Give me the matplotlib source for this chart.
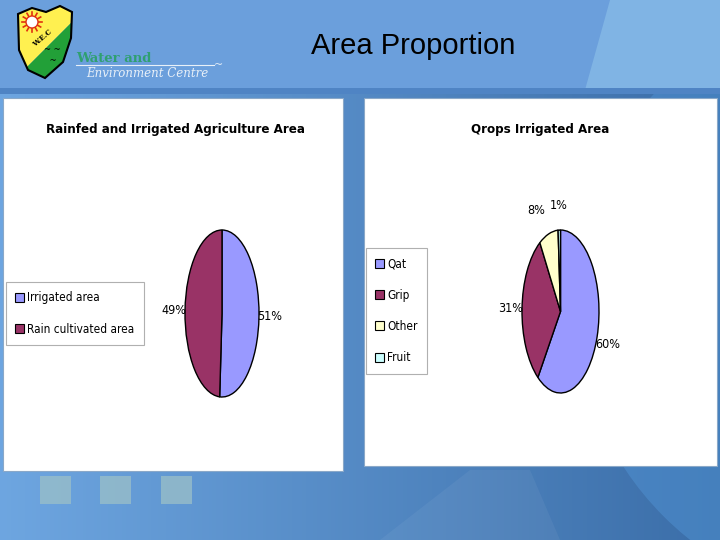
import numpy as np
import matplotlib
matplotlib.use("Agg")
import matplotlib.pyplot as plt
from matplotlib.patches import Rectangle, Polygon, Circle, Patch

# chart data
left_title = "Rainfed and Irrigated Agriculture Area"
left_labels = ["Irrigated area", "Rain cultivated area"]
left_values = [51, 49]

right_title = "Qrops Irrigated Area"
right_labels = ["Qat", "Grip", "Other", "Fruit"]
right_values = [60, 31, 8, 1]

colors = ["#9999FF", "#993366", "#FFFFCC", "#CCFFFF"]
narrow = dict(family="DejaVu Sans", stretch="condensed")

W, H = 720, 540


def fig_box(x0, y0, x1, y1):
    # pixel box (top-left origin) -> figure fraction rect
    return [x0 / W, 1 - y1 / H, (x1 - x0) / W, (y1 - y0) / H]


fig = plt.figure(figsize=(7.2, 5.4), dpi=100)

# background slide
bg = fig.add_axes([0, 0, 1, 1])
bg.set_xlim(0, W)
bg.set_ylim(H, 0)
bg.axis("off")

xs = np.linspace(0, 1, 200)
left_c = np.array([0.43, 0.65, 0.88])
right_c = np.array([0.23, 0.43, 0.66])
row = left_c[None, :] * (1 - xs[:, None]) + right_c[None, :] * xs[:, None]
img = np.repeat(row[None, :, :], 2, axis=0)
bg.imshow(img, extent=[0, W, H, 92], aspect="auto", zorder=0)
bg.add_patch(Rectangle((0, 0), W, 92, color="#6B9FDC", zorder=1, lw=0))
bg.add_patch(Polygon([(610, 0), (W, 0), (W, 90), (585, 90)], closed=True,
                     color="#80B4E4", zorder=1, lw=0))
bg.add_patch(Rectangle((0, 88), W, 6, color="#4F84C4", zorder=1, lw=0))
low = Rectangle((0, 94), W, H - 94, transform=bg.transData)
arc = Circle((880, 300), 306, color="#4F90D0", alpha=0.55, zorder=1, lw=0)
bg.add_patch(arc)
arc.set_clip_path(low)
bg.add_patch(Polygon([(380, 540), (470, 470), (530, 470), (560, 540)],
                     closed=True, color="white", alpha=0.05, zorder=1, lw=0))
for sx in [40, 100, 161]:
    bg.add_patch(Rectangle((sx, 476), 31, 28, color="#9BC0C8", alpha=0.75,
                           zorder=2, lw=0))

# logo
shield = Polygon([(18, 14), (32, 8), (46, 12), (60, 6), (72, 12), (71, 38),
                  (63, 62), (45, 78), (28, 70), (19, 50)], closed=True,
                 fc="none", ec="black", lw=1.5, zorder=4)
bg.add_patch(shield)
yel = Polygon([(10, 0), (80, 0), (80, 14), (22, 72), (10, 72)], closed=True,
              color="#FFF050", zorder=3, lw=0)
grn = Polygon([(80, 14), (80, 90), (10, 90), (10, 72), (22, 72)], closed=True,
              color="#22A038", zorder=3, lw=0)
bg.add_patch(yel)
bg.add_patch(grn)
yel.set_clip_path(shield)
grn.set_clip_path(shield)
for a in np.linspace(0, 2 * np.pi, 12, endpoint=False):
    bg.plot([32 + 6 * np.cos(a), 32 + 10 * np.cos(a)],
            [22 + 6 * np.sin(a), 22 + 10 * np.sin(a)],
            color="#E03010", lw=1.2, zorder=4)
bg.add_patch(Circle((32, 22), 6, fc="white", ec="#E03010", lw=1, zorder=5))
bg.text(42, 38, "W.E.C", fontsize=5, rotation=40, ha="center", va="center",
        color="black", zorder=5, family="DejaVu Serif", fontweight="bold")
bg.text(52, 55, "~ ~\n ~", fontsize=6, ha="center", va="center",
        color="black", zorder=5)
bg.text(76, 62, "Water and", fontsize=9.5, color="#2FA070", family="DejaVu Serif",
        fontweight="bold", va="baseline", zorder=5)
bg.plot([76, 214], [65, 65], color="#E8F0F8", lw=0.8, zorder=5)
bg.text(86, 77, "Environment Centre", fontsize=8.5, color="#E8F0F8",
        family="DejaVu Serif", style="italic", va="baseline", zorder=5)
bg.text(214, 65, "~", fontsize=8, color="#E8F0F8", va="center", zorder=5)

bg.text(413, 46, "Area Proportion", fontsize=21, ha="center", va="center",
        family=["Liberation Sans", "DejaVu Sans"], color="black", zorder=5)

# white chart panels
bg.add_patch(Rectangle((3, 98), 340, 373, fc="white", ec="#8AA8C8", lw=0.8,
                       zorder=3))
bg.add_patch(Rectangle((364, 98), 353, 368, fc="white", ec="#8AA8C8", lw=0.8,
                       zorder=3))
bg.text(175, 129, left_title, fontsize=9.5, fontweight="bold", ha="center",
        va="center", zorder=5, **narrow)
bg.text(540, 129, right_title, fontsize=9.5, fontweight="bold", ha="center",
        va="center", zorder=5, **narrow)


def draw_pie(box, values, labels, legend_anchor):
    ax = fig.add_axes(fig_box(*box))
    wedges, _, pct = ax.pie(values, colors=colors[:len(values)], startangle=90,
                            counterclock=False, autopct="%d%%",
                            pctdistance=1.3,
                            wedgeprops=dict(edgecolor="black", linewidth=1.0))
    ax.set_aspect("auto")
    ax.set_xlim(-1, 1)
    ax.set_ylim(-1, 1)
    ax.axis("off")
    for t in pct:
        t.set_fontsize(9)
        t.set_family(narrow["family"])
        t.set_stretch(narrow["stretch"])
        t.set_clip_on(False)
        x, y = t.get_position()
        # small top-left labels lean away from their neighbour
        if y > 0.8 and -0.8 < x < -0.1:
            t.set_ha("right")
    handles = [Patch(fc=c, ec="black", lw=0.8) for c in colors[:len(values)]]
    leg = ax.legend(handles, labels, loc="upper left",
                    bbox_to_anchor=(legend_anchor[0] / W, 1 - legend_anchor[1] / H),
                    bbox_transform=fig.transFigure, frameon=True, fancybox=False,
                    edgecolor="#B0B0B0", framealpha=1, handlelength=0.7,
                    handleheight=0.8, handletextpad=0.3, labelspacing=1.55,
                    borderpad=0.8, borderaxespad=0,
                    prop=dict(size=8.5, **narrow))
    leg.get_frame().set_linewidth(0.8)
    return ax


draw_pie((185, 230, 259, 397), left_values, left_labels, (6, 282))
draw_pie((522, 230, 599, 393), right_values, right_labels, (366, 248))

fig.savefig("out.png", dpi=100)
